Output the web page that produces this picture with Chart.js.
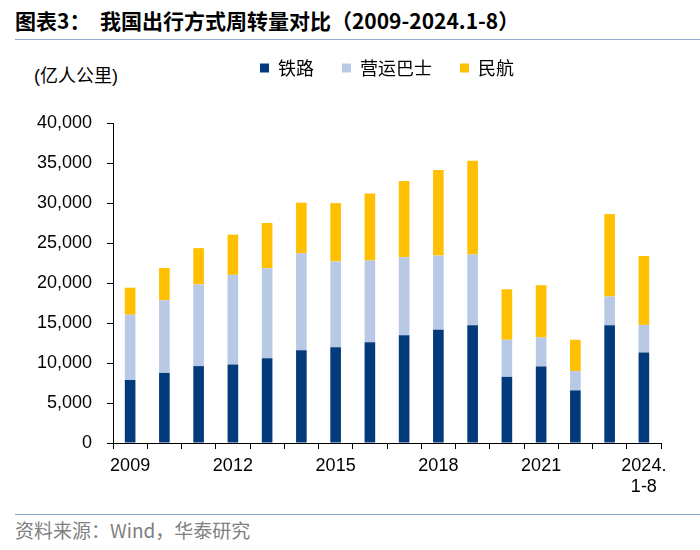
<!DOCTYPE html>
<html>
<head>
<meta charset="utf-8">
<script src="https://cdn.jsdelivr.net/npm/chart.js@4.4.1/dist/chart.umd.min.js"></script>
<style>
  body { margin: 0; background: #fff; }
  #wrap { position: relative; width: 700px; height: 550px; overflow: hidden; }
  .title {
    position: absolute; left: 15px; top: 6px;
    font: bold 21px "Noto Sans CJK SC", sans-serif; line-height: 28px; color: #000;
    white-space: pre;
  }
  .rule { position: absolute; left: 15px; right: 0; height: 0; border-top: 1.5px solid #8eaacb; }
  .rule.top { top: 39px; }
  .rule.bottom { top: 514px; }
  .unit {
    position: absolute; left: 34px; top: 64px;
    font: 18px "Liberation Sans", "Noto Sans CJK SC", sans-serif; line-height: 24px; color: #000;
  }
  .source {
    position: absolute; left: 15px; top: 517px;
    font: 19px "Noto Sans CJK SC", sans-serif; line-height: 26px; color: #808080;
  }
  #chart { position: absolute; left: 0; top: 31px; }
</style>
</head>
<body>
<div id="wrap">
  <div class="title">图表3：  我国出行方式周转量对比（2009-2024.1-8）</div>
  <div class="rule top"></div>
  <div class="unit">(亿人公里)</div>
  <canvas id="chart" width="700" height="480"></canvas>
  <div class="rule bottom"></div>
  <div class="source">资料来源：Wind，华泰研究</div>
</div>
<script>
// categories (2024 covers Jan-Aug only)
const years = [
  "2009", "2010", "2011", "2012", "2013", "2014", "2015", "2016",
  "2017", "2018", "2019", "2020", "2021", "2022", "2023", "2024.1-8"
];
// only every third year gets a label on the axis
const xTickLabels = [
  "2009", "", "", "2012", "", "", "2015", "", "", "2018", "", "", "2021", "", "", ["2024.", "1-8"]
];

// passenger turnover, 100 million passenger-km
const railway = [7879, 8762, 9612, 9812, 10596, 11604, 11961, 12579, 13457, 14147, 14707, 8266, 9568, 6578, 14729, 11300];
const bus = [8160, 9080, 10210, 11210, 11250, 12100, 10740, 10230, 9770, 9280, 8860, 4640, 3630, 2410, 3580, 3460];
const aviation = [3375, 4039, 4537, 5026, 5657, 6334, 7283, 8378, 9513, 10712, 11705, 6311, 6529, 3914, 10309, 8620];

const yTicks = { min: 0, max: 40000, step: 5000 };

Chart.defaults.font.family = '"Liberation Sans", Arial, "Noto Sans CJK SC", sans-serif';
Chart.defaults.font.size = 18;
Chart.defaults.color = "#000";

// push the plot area down below the legend
const legendGap = {
  id: "legendGap",
  beforeInit(chart) {
    const fitValue = chart.legend.fit;
    chart.legend.fit = function () {
      fitValue.bind(chart.legend)();
      this.height += 36;
    };
  },
};

const ctx = document.getElementById("chart");

new Chart(ctx, {
  type: "bar",
  data: {
    labels: years,
    datasets: [
      { label: "铁路", data: railway, backgroundColor: "#023a7c" },
      { label: "营运巴士", data: bus, backgroundColor: "#b8c9e5" },
      { label: "民航", data: aviation, backgroundColor: "#fec000" },
    ],
  },
  options: {
    responsive: false,
    animation: false,
    layout: { padding: { left: 0, right: 39, top: 0, bottom: 8 } },
    datasets: {
      bar: { barPercentage: 0.31, categoryPercentage: 1 },
    },
    scales: {
      x: {
        stacked: true,
        afterFit(scale) {
          scale.height = 60;
        },
        border: { display: true, color: "#000", width: 1 },
        grid: {
          offset: true,
          drawOnChartArea: false,
          drawTicks: true,
          tickLength: 6,
          color: "#000",
        },
        ticks: {
          autoSkip: false,
          maxRotation: 0,
          minRotation: 0,
          padding: 6,
          callback: (value, index) => xTickLabels[index],
        },
      },
      y: {
        stacked: true,
        min: yTicks.min,
        max: yTicks.max,
        afterFit(scale) {
          scale.width = 113;
        },
        border: { display: true, color: "#000", width: 1 },
        grid: {
          drawOnChartArea: false,
          drawTicks: true,
          tickLength: 6,
          color: "#000",
        },
        ticks: {
          stepSize: yTicks.step,
          padding: 15,
          callback: (value) => value.toLocaleString("en-US"),
        },
      },
    },
    plugins: {
      legend: {
        position: "top",
        fullSize: false,
        labels: {
          boxWidth: 9,
          boxHeight: 9,
          padding: 28,
          font: { size: 18, family: '"Noto Sans CJK SC", sans-serif' },
        },
      },
      tooltip: { enabled: false },
    },
  },
  plugins: [legendGap],
});
</script>
</body>
</html>
